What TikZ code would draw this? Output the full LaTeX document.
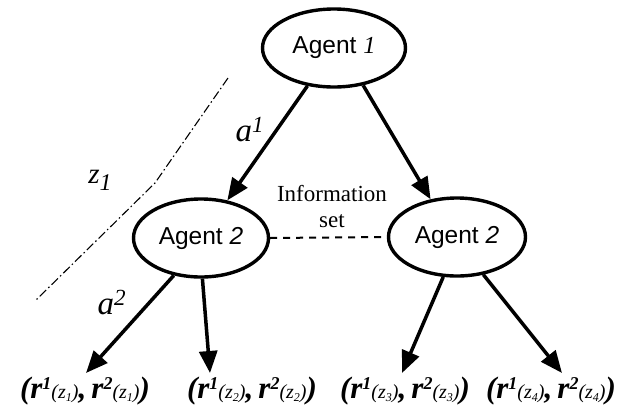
\documentclass[tikz,border=0pt]{standalone}
\usepackage{fontspec}
\setmainfont{Liberation Serif}
\newfontfamily\agentfont{Liberation Sans}
\usetikzlibrary{arrows.meta,calc,shapes.geometric}
\newcommand\fsz[1]{\fontsize{#1}{#1}\selectfont}
\newcommand\leaflabel[1]{\bfseries\itshape{\fsz{31}(r}\raisebox{9pt}{\fsz{18}1}{\mdseries\fsz{20}(z\raisebox{-3pt}{\fsz{12}#1})}{\fsz{31},\,r}\raisebox{9pt}{\fsz{18}2}{\mdseries\fsz{20}(z\raisebox{-3pt}{\fsz{12}#1})}{\fsz{31})}}
\begin{document}
\begin{tikzpicture}[x=1pt,y=-1pt,
  agent/.style={draw, ellipse, line width=3.4pt, inner sep=0pt, minimum height=78pt, font=\agentfont\fsz{24.5}},
  arr/.style={line width=3.5pt, -{Triangle[length=22pt,width=18pt]}},
  leaf/.style={inner sep=0pt, anchor=center},
  lab/.style={inner sep=0pt, font=\itshape},
  info/.style={dash pattern=on 7pt off 6pt, line width=2pt},
  cut/.style={line width=1.1pt, dash pattern=on 9pt off 3pt on 1.5pt off 3pt}]
\useasboundingbox (0,0) rectangle (633,408);
\node[agent, minimum width=143pt] (A1) at (334,48) {Agent {\rmfamily\itshape 1}};
\node[agent, minimum width=135pt] (A2L) at (201,238) {Agent {\itshape 2}};
\node[agent, minimum width=137pt] (A2R) at (457,237) {Agent {\itshape 2}};
\node[leaf] (L1) at (85,391) {\leaflabel{1}};
\node[leaf] (L2) at (252,391) {\leaflabel{2}};
\node[leaf] (L3) at (405,391) {\leaflabel{3}};
\node[leaf] (L4) at (551,391) {\leaflabel{4}};
\coordinate (t1) at (86,373);
\coordinate (t2) at (210,373);
\coordinate (t3) at (402,373);
\coordinate (t4) at (562,373);
\draw[arr] (A1) -- (A2L);
\draw[arr] (A1.-52) -- (A2R.125);
\draw[arr] (A2L.-126) -- (t1);
\draw[arr] (A2L.-88) -- (t2);
\draw[arr] (A2R.-109) -- (t3);
\draw[arr] (A2R.-55) -- (t4);
\draw[info] (A2L.east) -- (A2R.west);
\node[inner sep=0pt, align=center, font=\fsz{23}, text depth=0pt] (IS) at (332,206) {Information\\[3pt]set};
\coordinate (c1) at (228,78);
\coordinate (c2) at (155,183);
\coordinate (c3) at (36,300);
\draw[cut] (c1) -- (c2) -- (c3);
\node[lab, font=\itshape\fsz{33}] (a1) at (250,130) {a\textsuperscript{1}};
\node[lab, font=\itshape\fsz{33}] (a2) at (112,303) {a\textsuperscript{2}};
\node[lab, font=\itshape\fsz{29}] (z1) at (100,180) {z\raisebox{-7pt}{\fsz{24}1}};
\end{tikzpicture}
\end{document}
